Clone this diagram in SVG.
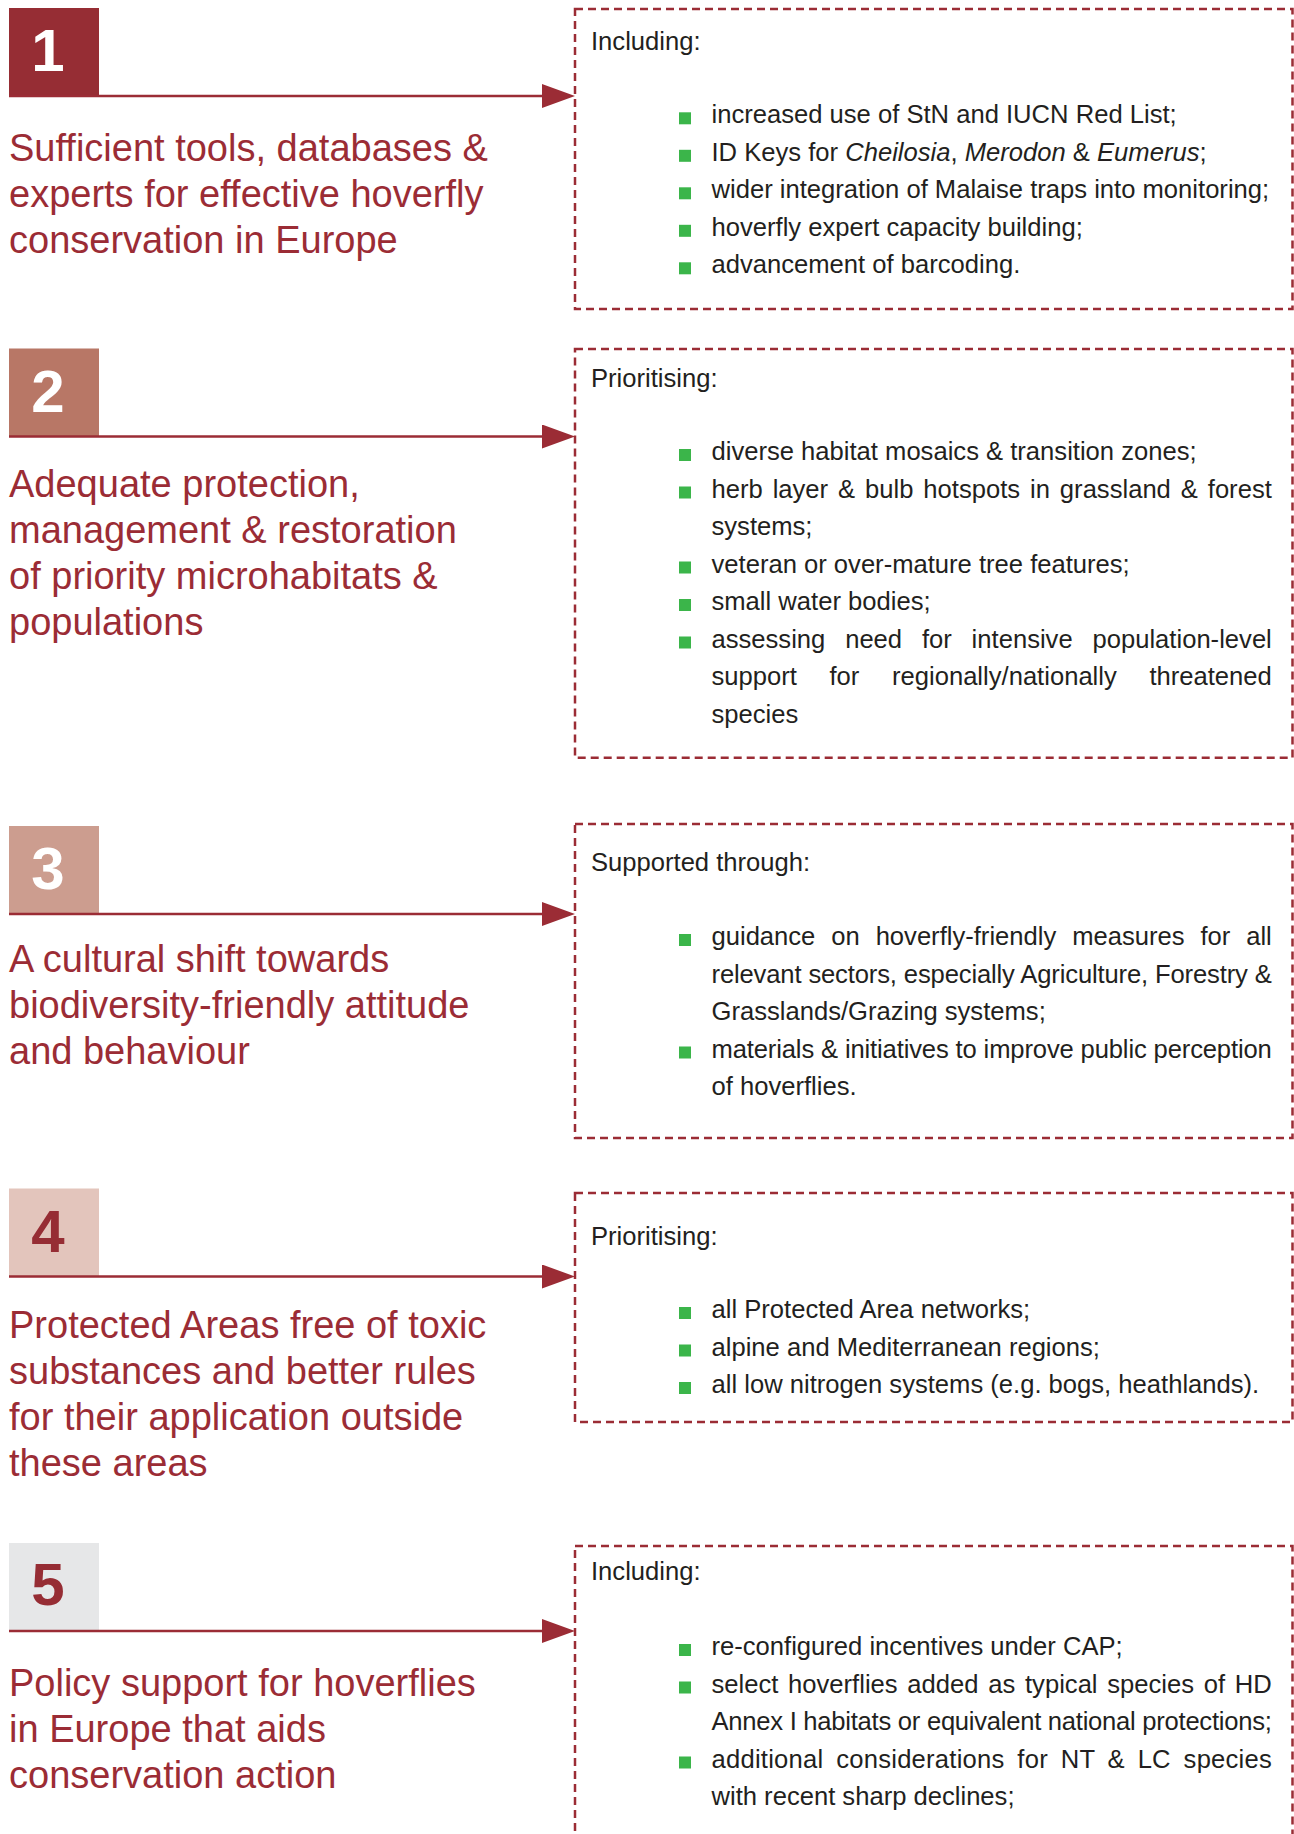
<svg xmlns="http://www.w3.org/2000/svg" width="1294" height="1834" viewBox="0 0 1294 1834">
<style>
.bg{fill:#ffffff}
.num{font-family:"Liberation Sans",Arial,Helvetica,sans-serif;font-weight:bold;font-size:60px;text-anchor:middle}
.title{font-family:"Liberation Sans",Arial,Helvetica,sans-serif;font-size:38px;fill:#9b2c35}
.body{font-family:"Liberation Sans",Arial,Helvetica,sans-serif;font-size:25.6px;fill:#231f20}
.dash{fill:none;stroke:#9b2c35;stroke-width:2.5;stroke-dasharray:8 5}
.bul{fill:#3bb54a}
.conn{stroke:#9b2c35;stroke-width:2.4;fill:none}
.it{font-style:italic}
</style>
<defs>
<marker id="ah" markerUnits="userSpaceOnUse" markerWidth="33" markerHeight="24" refX="18" refY="12" orient="auto">
<path d="M0,0 L33,12 L0,24 Z" fill="#9b2c35"/>
</marker>
</defs>
<rect class="bg" x="0" y="0" width="1294" height="1834"/>

<!-- Node 1 -->
<g id="goal1">
<rect x="9" y="8" width="90" height="88" fill="#962d34"/>
<text class="num" x="48" y="71" fill="#ffffff">1</text>
<text class="title" x="9" y="160.5">Sufficient tools, databases &amp;</text>
<text class="title" x="9" y="206.5">experts for effective hoverfly</text>
<text class="title" x="9" y="252.5">conservation in Europe</text>
</g>
<g id="detail1">
<rect class="dash" x="575" y="9" width="717.5" height="300"/>
<text class="body" x="591" y="50">Including:</text>
<rect class="bul" x="679" y="112.3" width="12" height="12"/>
<text class="body" x="711.5" y="123.3">increased use of StN and IUCN Red List;</text>
<rect class="bul" x="679" y="149.8" width="12" height="12"/>
<text class="body" x="711.5" y="160.8">ID Keys for <tspan class="it">Cheilosia</tspan>, <tspan class="it">Merodon</tspan> &amp; <tspan class="it">Eumerus</tspan>;</text>
<rect class="bul" x="679" y="187.3" width="12" height="12"/>
<text class="body" x="711.5" y="198.3">wider integration of Malaise traps into monitoring;</text>
<rect class="bul" x="679" y="224.8" width="12" height="12"/>
<text class="body" x="711.5" y="235.8">hoverfly expert capacity building;</text>
<rect class="bul" x="679" y="262.3" width="12" height="12"/>
<text class="body" x="711.5" y="273.3">advancement of barcoding.</text>
</g>

<!-- Node 2 -->
<g id="goal2">
<rect x="9" y="348.5" width="90" height="88" fill="#b87766"/>
<text class="num" x="48" y="411.5" fill="#ffffff">2</text>
<text class="title" x="9" y="497">Adequate protection,</text>
<text class="title" x="9" y="543">management &amp; restoration</text>
<text class="title" x="9" y="589">of priority microhabitats &amp;</text>
<text class="title" x="9" y="635">populations</text>
</g>
<g id="detail2">
<rect class="dash" x="575" y="349" width="717.5" height="408.7"/>
<text class="body" x="591" y="386.7">Prioritising:</text>
<rect class="bul" x="679" y="449" width="12" height="12"/>
<text class="body" x="711.5" y="460">diverse habitat mosaics &amp; transition zones;</text>
<rect class="bul" x="679" y="486.5" width="12" height="12"/>
<text class="body" x="711.5" y="497.5" word-spacing="2.8" textLength="560.3" lengthAdjust="spacing">herb layer &amp; bulb hotspots in grassland &amp; forest</text>
<text class="body" x="711.5" y="535">systems;</text>
<rect class="bul" x="679" y="561.5" width="12" height="12"/>
<text class="body" x="711.5" y="572.5">veteran or over-mature tree features;</text>
<rect class="bul" x="679" y="599" width="12" height="12"/>
<text class="body" x="711.5" y="610">small water bodies;</text>
<rect class="bul" x="679" y="636.5" width="12" height="12"/>
<text class="body" x="711.5" y="647.5" word-spacing="12.7" textLength="560.3" lengthAdjust="spacing">assessing need for intensive population-level</text>
<text class="body" x="711.5" y="685" word-spacing="25.5" textLength="560.3" lengthAdjust="spacing">support for regionally/nationally threatened</text>
<text class="body" x="711.5" y="722.5">species</text>
</g>

<!-- Node 3 -->
<g id="goal3">
<rect x="9" y="826" width="90" height="88" fill="#cc9d8f"/>
<text class="num" x="48" y="889" fill="#ffffff">3</text>
<text class="title" x="9" y="971.5">A cultural shift towards</text>
<text class="title" x="9" y="1017.5">biodiversity-friendly attitude</text>
<text class="title" x="9" y="1063.5">and behaviour</text>
</g>
<g id="detail3">
<rect class="dash" x="575" y="824" width="717.5" height="314"/>
<text class="body" x="591" y="870.7">Supported through:</text>
<rect class="bul" x="679" y="934" width="12" height="12"/>
<text class="body" x="711.5" y="945" word-spacing="8.8" textLength="560.3" lengthAdjust="spacing">guidance on hoverfly-friendly measures for all</text>
<text class="body" x="711.5" y="982.5" textLength="560.3" lengthAdjust="spacing">relevant sectors, especially Agriculture, Forestry &amp;</text>
<text class="body" x="711.5" y="1020">Grasslands/Grazing systems;</text>
<rect class="bul" x="679" y="1046.5" width="12" height="12"/>
<text class="body" x="711.5" y="1057.5" textLength="560.3" lengthAdjust="spacing">materials &amp; initiatives to improve public perception</text>
<text class="body" x="711.5" y="1095">of hoverflies.</text>
</g>

<!-- Node 4 -->
<g id="goal4">
<rect x="9" y="1188.5" width="90" height="88" fill="#e3c5bc"/>
<text class="num" x="48" y="1252" fill="#962d34">4</text>
<text class="title" x="9" y="1337.5">Protected Areas free of toxic</text>
<text class="title" x="9" y="1383.5">substances and better rules</text>
<text class="title" x="9" y="1429.5">for their application outside</text>
<text class="title" x="9" y="1475.5">these areas</text>
</g>
<g id="detail4">
<rect class="dash" x="575" y="1193" width="717.5" height="229"/>
<text class="body" x="591" y="1245">Prioritising:</text>
<rect class="bul" x="679" y="1307" width="12" height="12"/>
<text class="body" x="711.5" y="1318">all Protected Area networks;</text>
<rect class="bul" x="679" y="1344.5" width="12" height="12"/>
<text class="body" x="711.5" y="1355.5">alpine and Mediterranean regions;</text>
<rect class="bul" x="679" y="1382" width="12" height="12"/>
<text class="body" x="711.5" y="1393">all low nitrogen systems (e.g. bogs, heathlands).</text>
</g>

<!-- Node 5 -->
<g id="goal5">
<rect x="9" y="1543" width="90" height="88" fill="#e6e7e8"/>
<text class="num" x="48" y="1605" fill="#962d34">5</text>
<text class="title" x="9" y="1696">Policy support for hoverflies</text>
<text class="title" x="9" y="1742">in Europe that aids</text>
<text class="title" x="9" y="1788">conservation action</text>
</g>
<g id="detail5">
<rect class="dash" x="575" y="1546" width="717.5" height="400"/>
<text class="body" x="591" y="1580">Including:</text>
<rect class="bul" x="679" y="1644" width="12" height="12"/>
<text class="body" x="711.5" y="1655">re-configured incentives under CAP;</text>
<rect class="bul" x="679" y="1681.5" width="12" height="12"/>
<text class="body" x="711.5" y="1692.5" word-spacing="2.6" textLength="560.3" lengthAdjust="spacing">select hoverflies added as typical species of HD</text>
<text class="body" x="711.5" y="1730" textLength="560.3" lengthAdjust="spacing">Annex I habitats or equivalent national protections;</text>
<rect class="bul" x="679" y="1756.5" width="12" height="12"/>
<text class="body" x="711.5" y="1767.5" word-spacing="5.4" textLength="560.3" lengthAdjust="spacing">additional considerations for NT &amp; LC species</text>
<text class="body" x="711.5" y="1805">with recent sharp declines;</text>
</g>

<!-- Connectors -->
<g id="connectors">
<line class="conn" x1="9" y1="96" x2="560" y2="96" marker-end="url(#ah)"/>
<line class="conn" x1="9" y1="436.5" x2="560" y2="436.5" marker-end="url(#ah)"/>
<line class="conn" x1="9" y1="914" x2="560" y2="914" marker-end="url(#ah)"/>
<line class="conn" x1="9" y1="1276.5" x2="560" y2="1276.5" marker-end="url(#ah)"/>
<line class="conn" x1="9" y1="1631" x2="560" y2="1631" marker-end="url(#ah)"/>
</g>
</svg>
